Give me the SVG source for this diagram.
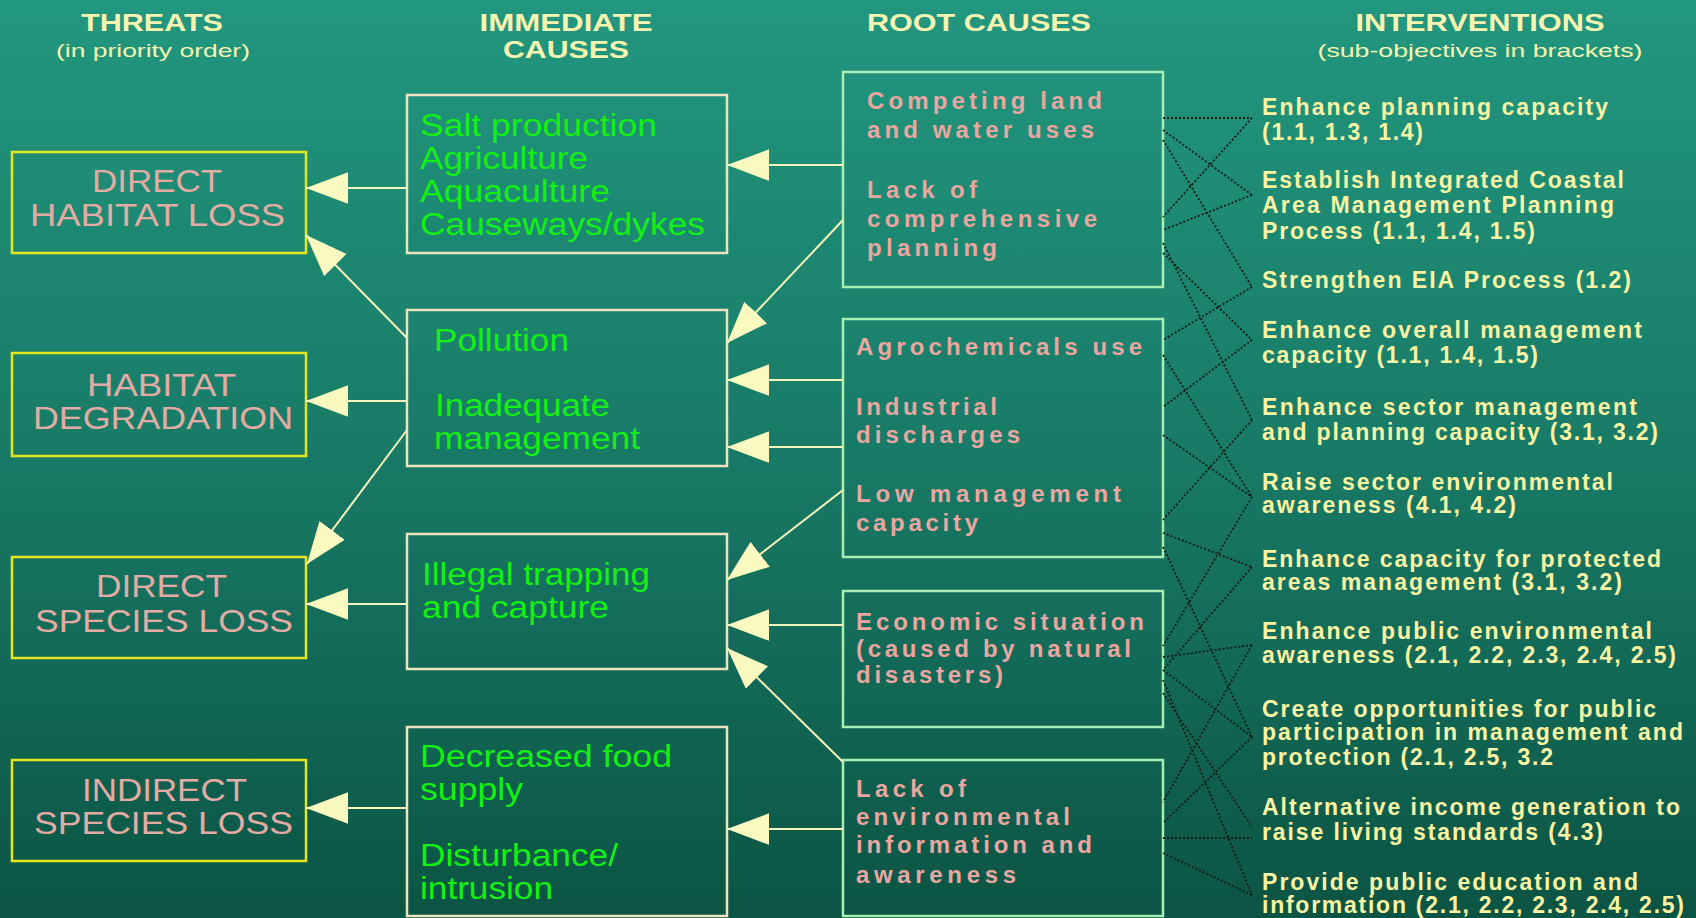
<svg xmlns="http://www.w3.org/2000/svg" width="1696" height="918" viewBox="0 0 1696 918">
<defs>
<linearGradient id="bg" x1="0" y1="0" x2="0" y2="1">
<stop offset="0" stop-color="#22977f"/>
<stop offset="0.5" stop-color="#187a66"/>
<stop offset="1" stop-color="#0c5444"/>
</linearGradient>
<marker id="ah" markerUnits="userSpaceOnUse" markerWidth="42" markerHeight="32" viewBox="0 0 40 30" refX="40" refY="15" orient="auto">
<path d="M0,0 L40,15 L0,30 Z" fill="#fafac0"/>
</marker>
<style>
.hd{font-family:"Liberation Sans",Arial,sans-serif;font-weight:bold;font-size:23px;fill:#f6f4b0;text-anchor:middle}
.sub{font-family:"Liberation Sans",Arial,sans-serif;font-size:19px;fill:#f6f4b0;text-anchor:middle}
.thr{font-family:"Liberation Sans",Arial,sans-serif;font-size:31px;fill:#e2aca4}
.imm{font-family:"Liberation Sans",Arial,sans-serif;font-size:31px;fill:#14f014}
.root{font-family:"Liberation Sans",Arial,sans-serif;font-weight:bold;font-size:24px;fill:#eaa6a0}
.int{font-family:"Liberation Sans",Arial,sans-serif;font-weight:bold;font-size:23px;fill:#f8f4a4}
.tb{fill:none;stroke:#e6e61e;stroke-width:2.5}
.ib{fill:none;stroke:#ece4c0;stroke-width:2.5}
.rb{fill:none;stroke:#a6eeb2;stroke-width:2.5}
.ar{stroke:#f4f4bc;stroke-width:2;fill:none;marker-end:url(#ah)}
.dt{stroke:#0e1c16;stroke-width:1.8;stroke-dasharray:2 2;fill:none}
</style>
</defs>
<rect x="0" y="0" width="1696" height="918" fill="url(#bg)"/>

<g id="headers">
<text class="hd" x="152" y="31" textLength="142" lengthAdjust="spacingAndGlyphs">THREATS</text>
<text class="sub" x="153" y="57" textLength="194" lengthAdjust="spacingAndGlyphs">(in priority order)</text>
<text class="hd" x="566" y="31" textLength="173" lengthAdjust="spacingAndGlyphs">IMMEDIATE</text>
<text class="hd" x="566" y="58" textLength="126" lengthAdjust="spacingAndGlyphs">CAUSES</text>
<text class="hd" x="979" y="31" textLength="224" lengthAdjust="spacingAndGlyphs">ROOT CAUSES</text>
<text class="hd" x="1480" y="31" textLength="249" lengthAdjust="spacingAndGlyphs">INTERVENTIONS</text>
<text class="sub" x="1480" y="57" textLength="325" lengthAdjust="spacingAndGlyphs">(sub-objectives in brackets)</text>
</g>

<g id="threat-direct-habitat-loss">
<rect class="tb" x="12" y="152" width="294" height="101"/>
<text class="thr" x="92" y="192" textLength="130" lengthAdjust="spacingAndGlyphs">DIRECT</text>
<text class="thr" x="30" y="226" textLength="255" lengthAdjust="spacingAndGlyphs">HABITAT LOSS</text>
</g>
<g id="threat-habitat-degradation">
<rect class="tb" x="12" y="353" width="294" height="103"/>
<text class="thr" x="87" y="396" textLength="149" lengthAdjust="spacingAndGlyphs">HABITAT</text>
<text class="thr" x="33" y="429" textLength="260" lengthAdjust="spacingAndGlyphs">DEGRADATION</text>
</g>
<g id="threat-direct-species-loss">
<rect class="tb" x="12" y="557" width="294" height="101"/>
<text class="thr" x="96" y="597" textLength="131" lengthAdjust="spacingAndGlyphs">DIRECT</text>
<text class="thr" x="35" y="632" textLength="258" lengthAdjust="spacingAndGlyphs">SPECIES LOSS</text>
</g>
<g id="threat-indirect-species-loss">
<rect class="tb" x="12" y="760" width="294" height="101"/>
<text class="thr" x="82" y="801" textLength="165" lengthAdjust="spacingAndGlyphs">INDIRECT</text>
<text class="thr" x="34" y="834" textLength="259" lengthAdjust="spacingAndGlyphs">SPECIES LOSS</text>
</g>

<g id="imm-land-use">
<rect class="ib" x="407" y="95" width="320" height="158"/>
<text class="imm" x="420" y="136" textLength="237" lengthAdjust="spacingAndGlyphs">Salt production</text>
<text class="imm" x="420" y="169" textLength="168" lengthAdjust="spacingAndGlyphs">Agriculture</text>
<text class="imm" x="420" y="202" textLength="190" lengthAdjust="spacingAndGlyphs">Aquaculture</text>
<text class="imm" x="420" y="235" textLength="285" lengthAdjust="spacingAndGlyphs">Causeways/dykes</text>
</g>
<g id="imm-pollution">
<rect class="ib" x="407" y="310" width="320" height="156"/>
<text class="imm" x="434" y="351" textLength="135" lengthAdjust="spacingAndGlyphs">Pollution</text>
<text class="imm" x="435" y="416" textLength="175" lengthAdjust="spacingAndGlyphs">Inadequate</text>
<text class="imm" x="434" y="449" textLength="206" lengthAdjust="spacingAndGlyphs">management</text>
</g>
<g id="imm-trapping">
<rect class="ib" x="407" y="534" width="320" height="135"/>
<text class="imm" x="422" y="585" textLength="228" lengthAdjust="spacingAndGlyphs">Illegal trapping</text>
<text class="imm" x="422" y="618" textLength="187" lengthAdjust="spacingAndGlyphs">and capture</text>
</g>
<g id="imm-food">
<rect class="ib" x="407" y="727" width="320" height="189"/>
<text class="imm" x="420" y="767" textLength="252" lengthAdjust="spacingAndGlyphs">Decreased food</text>
<text class="imm" x="420" y="800" textLength="103" lengthAdjust="spacingAndGlyphs">supply</text>
<text class="imm" x="420" y="866" textLength="198" lengthAdjust="spacingAndGlyphs">Disturbance/</text>
<text class="imm" x="420" y="899" textLength="133" lengthAdjust="spacingAndGlyphs">intrusion</text>
</g>

<g id="root-planning">
<rect class="rb" x="843" y="72" width="320" height="215"/>
<text class="root" x="867" y="109" textLength="235" lengthAdjust="spacing">Competing land</text>
<text class="root" x="867" y="138" textLength="227" lengthAdjust="spacing">and water uses</text>
<text class="root" x="867" y="198" textLength="110" lengthAdjust="spacing">Lack of</text>
<text class="root" x="867" y="227" textLength="230" lengthAdjust="spacing">comprehensive</text>
<text class="root" x="867" y="256" textLength="130" lengthAdjust="spacing">planning</text>
</g>
<g id="root-pollution">
<rect class="rb" x="843" y="319" width="320" height="238"/>
<text class="root" x="856" y="355" textLength="286" lengthAdjust="spacing">Agrochemicals use</text>
<text class="root" x="856" y="415" textLength="141" lengthAdjust="spacing">Industrial</text>
<text class="root" x="856" y="443" textLength="164" lengthAdjust="spacing">discharges</text>
<text class="root" x="856" y="502" textLength="265" lengthAdjust="spacing">Low management</text>
<text class="root" x="856" y="531" textLength="122" lengthAdjust="spacing">capacity</text>
</g>
<g id="root-economic">
<rect class="rb" x="843" y="591" width="320" height="136"/>
<text class="root" x="856" y="630" textLength="288" lengthAdjust="spacing">Economic situation</text>
<text class="root" x="856" y="657" textLength="275" lengthAdjust="spacing">(caused by natural</text>
<text class="root" x="856" y="683" textLength="147" lengthAdjust="spacing">disasters)</text>
</g>
<g id="root-awareness">
<rect class="rb" x="843" y="760" width="320" height="156"/>
<text class="root" x="856" y="797" textLength="110" lengthAdjust="spacing">Lack of</text>
<text class="root" x="856" y="825" textLength="214" lengthAdjust="spacing">environmental</text>
<text class="root" x="856" y="853" textLength="236" lengthAdjust="spacing">information and</text>
<text class="root" x="856" y="883" textLength="160" lengthAdjust="spacing">awareness</text>
</g>

<g id="interventions">
<text class="int" x="1262" y="115" textLength="346" lengthAdjust="spacing">Enhance planning capacity</text>
<text class="int" x="1262" y="140" textLength="161" lengthAdjust="spacing">(1.1, 1.3, 1.4)</text>
<text class="int" x="1262" y="188" textLength="362" lengthAdjust="spacing">Establish Integrated Coastal</text>
<text class="int" x="1262" y="213" textLength="352" lengthAdjust="spacing">Area Management Planning</text>
<text class="int" x="1262" y="239" textLength="273" lengthAdjust="spacing">Process (1.1, 1.4, 1.5)</text>
<text class="int" x="1262" y="288" textLength="369" lengthAdjust="spacing">Strengthen EIA Process (1.2)</text>
<text class="int" x="1262" y="338" textLength="380" lengthAdjust="spacing">Enhance overall management</text>
<text class="int" x="1262" y="363" textLength="276" lengthAdjust="spacing">capacity (1.1, 1.4, 1.5)</text>
<text class="int" x="1262" y="415" textLength="375" lengthAdjust="spacing">Enhance sector management</text>
<text class="int" x="1262" y="440" textLength="396" lengthAdjust="spacing">and planning capacity (3.1, 3.2)</text>
<text class="int" x="1262" y="490" textLength="351" lengthAdjust="spacing">Raise sector environmental</text>
<text class="int" x="1262" y="513" textLength="254" lengthAdjust="spacing">awareness (4.1, 4.2)</text>
<text class="int" x="1262" y="567" textLength="399" lengthAdjust="spacing">Enhance capacity for protected</text>
<text class="int" x="1262" y="590" textLength="360" lengthAdjust="spacing">areas management (3.1, 3.2)</text>
<text class="int" x="1262" y="639" textLength="390" lengthAdjust="spacing">Enhance public environmental</text>
<text class="int" x="1262" y="663" textLength="414" lengthAdjust="spacing">awareness (2.1, 2.2, 2.3, 2.4, 2.5)</text>
<text class="int" x="1262" y="717" textLength="394" lengthAdjust="spacing">Create opportunities for public</text>
<text class="int" x="1262" y="740" textLength="421" lengthAdjust="spacing">participation in management and</text>
<text class="int" x="1262" y="765" textLength="291" lengthAdjust="spacing">protection (2.1, 2.5, 3.2</text>
<text class="int" x="1262" y="815" textLength="418" lengthAdjust="spacing">Alternative income generation to</text>
<text class="int" x="1262" y="840" textLength="341" lengthAdjust="spacing">raise living standards (4.3)</text>
<text class="int" x="1262" y="890" textLength="376" lengthAdjust="spacing">Provide public education and</text>
<text class="int" x="1262" y="913" textLength="422" lengthAdjust="spacing">information (2.1, 2.2, 2.3, 2.4, 2.5)</text>
</g>

<g id="connectors">
<line class="ar" x1="407" y1="188" x2="306" y2="188"/>
<line class="ar" x1="843" y1="165" x2="727" y2="165"/>
<line class="ar" x1="407" y1="338" x2="306" y2="235"/>
<line class="ar" x1="407" y1="401" x2="306" y2="401"/>
<line class="ar" x1="407" y1="430" x2="307" y2="564"/>
<line class="ar" x1="843" y1="220" x2="727" y2="343"/>
<line class="ar" x1="843" y1="380" x2="727" y2="380"/>
<line class="ar" x1="843" y1="447" x2="727" y2="447"/>
<line class="ar" x1="843" y1="490" x2="727" y2="580"/>
<line class="ar" x1="407" y1="604" x2="306" y2="604"/>
<line class="ar" x1="843" y1="625" x2="727" y2="625"/>
<line class="ar" x1="843" y1="762" x2="727" y2="648"/>
<line class="ar" x1="843" y1="829" x2="727" y2="829"/>
<line class="ar" x1="407" y1="808" x2="306" y2="808"/>
</g>

<g id="dotted-links">
<path class="dt" d="M1163,118 L1252,118"/>
<path class="dt" d="M1252,118 L1163,217"/>
<path class="dt" d="M1163,130 L1252,195"/>
<path class="dt" d="M1252,195 L1163,230"/>
<path class="dt" d="M1163,140 L1252,287"/>
<path class="dt" d="M1252,287 L1163,340"/>
<path class="dt" d="M1163,253 L1252,340"/>
<path class="dt" d="M1252,340 L1163,407"/>
<path class="dt" d="M1163,243 L1252,420"/>
<path class="dt" d="M1252,420 L1163,520"/>
<path class="dt" d="M1163,355 L1252,497"/>
<path class="dt" d="M1163,435 L1252,497"/>
<path class="dt" d="M1252,497 L1163,646"/>
<path class="dt" d="M1163,533 L1252,567"/>
<path class="dt" d="M1252,567 L1163,670"/>
<path class="dt" d="M1163,657 L1252,645"/>
<path class="dt" d="M1252,645 L1163,802"/>
<path class="dt" d="M1163,547 L1252,737"/>
<path class="dt" d="M1163,670 L1252,737"/>
<path class="dt" d="M1252,737 L1163,823"/>
<path class="dt" d="M1163,693 L1252,827"/>
<path class="dt" d="M1163,838 L1252,838"/>
<path class="dt" d="M1163,680 L1252,895"/>
<path class="dt" d="M1163,853 L1252,895"/>
</g>
</svg>
